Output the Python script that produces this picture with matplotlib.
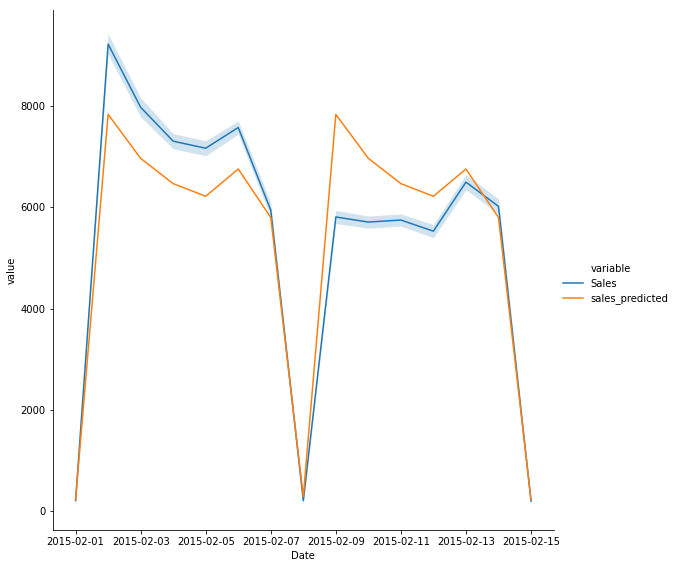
import matplotlib
matplotlib.use("Agg")
import matplotlib.pyplot as plt
import matplotlib.dates as mdates
from matplotlib.lines import Line2D
import pandas as pd

dates = ["2015-02-01", "2015-02-02", "2015-02-03", "2015-02-04", "2015-02-05",
         "2015-02-06", "2015-02-07", "2015-02-08", "2015-02-09", "2015-02-10",
         "2015-02-11", "2015-02-12", "2015-02-13", "2015-02-14", "2015-02-15"]

sales_mean = [200, 9230, 7980, 7310, 7170, 7580, 5945, 200,
              5810, 5710, 5750, 5530, 6500, 6020, 190]
sales_low = [120, 9030, 7790, 7160, 7020, 7450, 5800, 120,
             5680, 5590, 5630, 5400, 6350, 5870, 110]
sales_high = [280, 9430, 8170, 7460, 7320, 7710, 6090, 280,
              5940, 5830, 5870, 5660, 6650, 6170, 270]

sales_predicted = [220, 7840, 6970, 6470, 6220, 6760, 5800, 280,
                   7840, 6970, 6470, 6220, 6760, 5800, 220]

x = pd.to_datetime(dates)
blue = "#1f77b4"
orange = "#ff7f0e"

fig = plt.figure(figsize=(677 / 72, 568 / 72), dpi=72)
ax = fig.add_axes([0.078, 0.067, 0.74, 0.915])

ax.fill_between(x, sales_low, sales_high, color=blue, alpha=0.2, linewidth=0)
ax.plot(x, sales_mean, color=blue, lw=1.5)
ax.plot(x, sales_predicted, color=orange, lw=1.5)

ax.set_ylim(-380, 9900)
ax.set_yticks([0, 2000, 4000, 6000, 8000])
ax.set_xticks(x[::2])
ax.xaxis.set_major_formatter(mdates.DateFormatter("%Y-%m-%d"))
ax.set_xlabel("Date")
ax.set_ylabel("value")
ax.spines["top"].set_visible(False)
ax.spines["right"].set_visible(False)

handles = [Line2D([], [], color="none"),
           Line2D([], [], color=blue, lw=1.5),
           Line2D([], [], color=orange, lw=1.5)]
fig.legend(handles, ["variable", "Sales", "sales_predicted"],
           loc="center left", bbox_to_anchor=(0.818, 0.5), frameon=False)

fig.savefig("out.png", dpi=72)
